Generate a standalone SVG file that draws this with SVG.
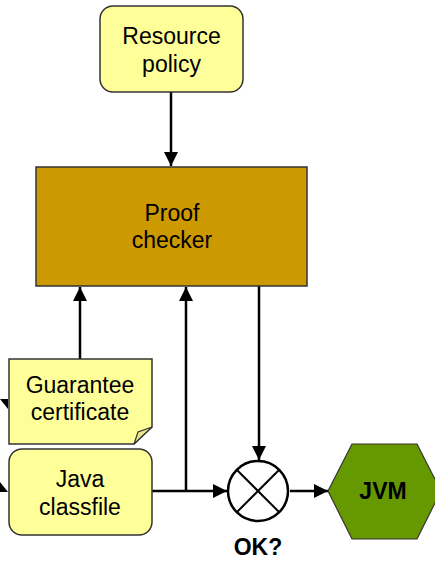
<svg xmlns="http://www.w3.org/2000/svg" width="435" height="561" viewBox="0 0 435 561">
  <defs>
    <marker id="arrow" viewBox="0 0 14 14" refX="14" refY="7" markerWidth="14" markerHeight="14" markerUnits="userSpaceOnUse" orient="auto">
      <path d="M0,0 L14,7 L0,14 Z" fill="#000"/>
    </marker>
    <style>
      .lbl { font-family: "Liberation Sans", Arial, sans-serif; font-size: 23px; fill: #000; text-anchor: middle; }
      .bold { font-weight: bold; }
      .yellow { fill: #FFFF99; stroke: #333; stroke-width: 1.5; }
      .edge { fill: none; stroke: #000; stroke-width: 2.5; }
    </style>
  </defs>
  <rect width="435" height="561" fill="#fff"/>

  <!-- connectors -->
  <g id="connectors">
    <line class="edge" x1="171" y1="92" x2="171" y2="166" marker-end="url(#arrow)"/>
    <line class="edge" x1="80" y1="359" x2="80" y2="287" marker-end="url(#arrow)"/>
    <line class="edge" x1="186" y1="491" x2="186" y2="287" marker-end="url(#arrow)"/>
    <line class="edge" x1="152" y1="491" x2="227" y2="491" marker-end="url(#arrow)"/>
    <line class="edge" x1="259" y1="286" x2="259" y2="460" marker-end="url(#arrow)"/>
    <line class="edge" x1="290" y1="491" x2="328" y2="491" marker-end="url(#arrow)"/>
    <!-- incoming arrowheads at the left border -->
    <polygon points="0,399 8,399 8,409" fill="#000"/>
    <polygon points="0,482 8,492 0,492" fill="#000"/>
  </g>

  <g id="resource-policy">
    <rect class="yellow" x="100" y="6" width="143" height="86" rx="13"/>
    <text class="lbl" x="171.5" y="44">Resource</text>
    <text class="lbl" x="171.5" y="72">policy</text>
  </g>

  <g id="proof-checker">
    <rect x="36" y="167" width="271" height="119" fill="#CC9900" stroke="#333" stroke-width="1.5"/>
    <text class="lbl" x="172" y="221">Proof</text>
    <text class="lbl" x="172" y="248">checker</text>
  </g>

  <g id="guarantee-certificate">
    <path class="yellow" d="M9,359 H152 V427 L134,444 H9 Z"/>
    <path d="M152,427 L134,444 L138,432 Z" fill="#E6E68A" stroke="#333" stroke-width="1.2"/>
    <text class="lbl" x="80" y="393">Guarantee</text>
    <text class="lbl" x="80" y="420">certificate</text>
  </g>

  <g id="java-classfile">
    <rect class="yellow" x="9" y="449" width="143" height="86" rx="13"/>
    <text class="lbl" x="80" y="487">Java</text>
    <text class="lbl" x="80" y="515">classfile</text>
  </g>

  <g id="ok-check">
    <circle cx="258" cy="491" r="30" fill="#fff" stroke="#000" stroke-width="2.5"/>
    <line x1="237" y1="470" x2="279" y2="512" stroke="#000" stroke-width="2"/>
    <line x1="279" y1="470" x2="237" y2="512" stroke="#000" stroke-width="2"/>
    <text class="lbl bold" x="258" y="555">OK?</text>
  </g>

  <g id="jvm">
    <polygon points="328,491 352,444 417,444 441,491 417,539 352,539" fill="#669900" stroke="#333" stroke-width="1.2"/>
    <text class="lbl bold" x="383" y="499">JVM</text>
  </g>
</svg>
